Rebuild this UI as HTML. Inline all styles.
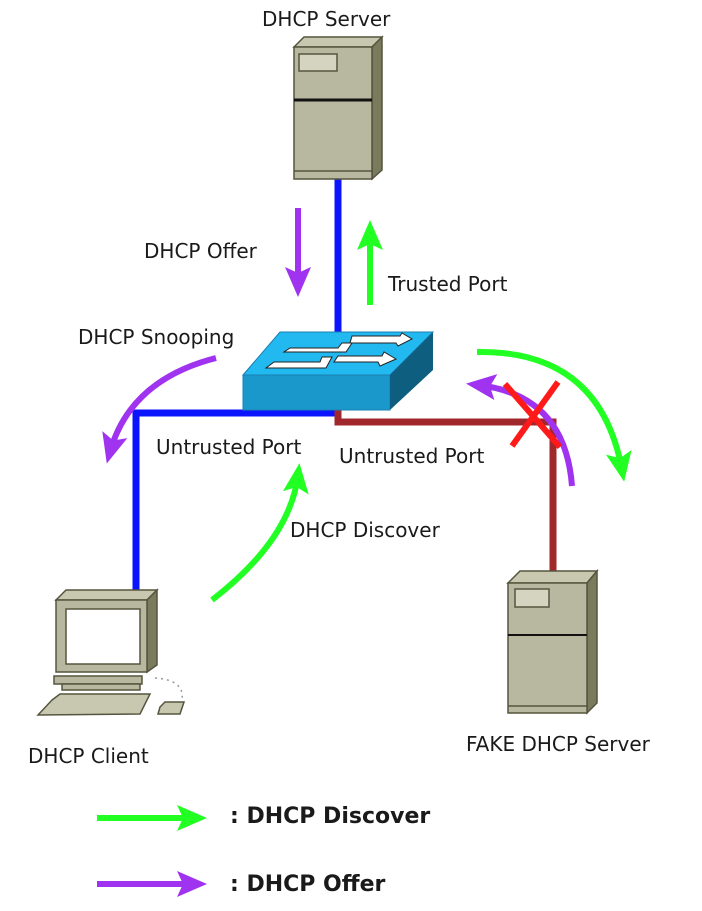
<!DOCTYPE html>
<html><head><style>
html,body{margin:0;padding:0;background:#fff;}
svg text{font-family:"DejaVu Sans","Liberation Sans",sans-serif;font-size:20px;fill:#1a1a1a;}
</style></head><body>
<svg width="702" height="906" viewBox="0 0 702 906" xmlns="http://www.w3.org/2000/svg">
<defs>
<marker id="pa" viewBox="0 0 30 30" refX="18" refY="15" markerWidth="30" markerHeight="30" markerUnits="userSpaceOnUse" orient="auto"><path d="M0,2 L30,15 L0,28 L6,15 Z" fill="#a033f0"/></marker>
<marker id="ga" viewBox="0 0 30 30" refX="18" refY="15" markerWidth="30" markerHeight="30" markerUnits="userSpaceOnUse" orient="auto"><path d="M0,2 L30,15 L0,28 L6,15 Z" fill="#22ff22"/></marker>
</defs>
<line x1="338" y1="178" x2="338" y2="335" stroke="#0a14ff" stroke-width="7"/>
<polyline points="338,413 136,413 136,592" fill="none" stroke="#0a14ff" stroke-width="7"/>
<polyline points="338,408 338,422 553,422 553,572" fill="none" stroke="#a0282c" stroke-width="7"/>
<g stroke="#55553f" stroke-width="1.5">
<polygon points="294,47 304,37 382,37 372,47" fill="#c8c8b0"/>
<polygon points="372,47 382,37 382,170 372,179" fill="#7a7a5c"/>
<rect x="294" y="47" width="78" height="132" fill="#b8b8a0"/>
<rect x="299" y="54" width="38" height="17" fill="#d4d4c0"/>
<line x1="294" y1="171" x2="372" y2="171"/>
</g>
<line x1="294" y1="100" x2="372" y2="100" stroke="#111" stroke-width="3"/>
<g stroke="#55553f" stroke-width="1.5">
<polygon points="508,583 520,571 597,571 587,583" fill="#c8c8b0"/>
<polygon points="587,583 597,571 597,703 587,713" fill="#7a7a5c"/>
<rect x="508" y="583" width="79" height="130" fill="#b8b8a0"/>
<rect x="515" y="589" width="34" height="18" fill="#d4d4c0"/>
<line x1="508" y1="706" x2="587" y2="706"/>
</g>
<line x1="508" y1="635" x2="587" y2="635" stroke="#111" stroke-width="2"/>
<polygon points="243,375 280,332 433,332 390,375" fill="#22b8f0" stroke="#1a7fb0"/>
<rect x="243" y="375" width="147" height="35" fill="#1a98cc" stroke="#1a7fb0"/>
<polygon points="390,375 433,332 433,370 390,410" fill="#0e5e80"/>
<g fill="#fff" stroke="#222" stroke-width="1">
<polygon points="352,336 400,336 402,333 412,339 398,346 396,343 350,343"/>
<polygon points="290,348 338,348 342,343 352,343 346,352 284,352"/>
<polygon points="338,356 382,356 384,352 396,359 380,366 378,362 334,362"/>
<polygon points="274,362 320,362 322,357 332,357 326,368 266,368"/>
</g>
<g stroke="#55553f" stroke-width="1.5">
<polygon points="56,600 66,590 157,590 147,600" fill="#c8c8b0"/>
<polygon points="147,600 157,590 157,665 147,672" fill="#7a7a5c"/>
<rect x="56" y="600" width="91" height="72" fill="#b8b8a0"/>
<rect x="66" y="609" width="74" height="55" fill="#fff"/>
<rect x="54" y="676" width="88" height="8" fill="#b8b8a0"/>
<rect x="62" y="684" width="78" height="6" fill="#b8b8a0"/>
<polygon points="52,700 60,694 150,694 140,714 38,715" fill="#c8c8b0"/>
<polygon points="160,707 165,702 184,702 180,714 158,714" fill="#c8c8b0"/>
</g>
<path d="M155,678 Q185,680 182,700" fill="none" stroke="#999" stroke-width="1.5" stroke-dasharray="2,4"/>
<line x1="298" y1="208" x2="298" y2="285" stroke="#a033f0" stroke-width="6" marker-end="url(#pa)"/>
<line x1="370" y1="305" x2="370" y2="232" stroke="#22ff22" stroke-width="6" marker-end="url(#ga)"/>
<path d="M216,358 Q130,380 110,452" fill="none" stroke="#a033f0" stroke-width="6" marker-end="url(#pa)"/>
<path d="M212,600 Q290,540 298,475" fill="none" stroke="#22ff22" stroke-width="6" marker-end="url(#ga)"/>
<path d="M477,352 Q600,350 622,470" fill="none" stroke="#22ff22" stroke-width="6" marker-end="url(#ga)"/>
<path d="M572,486 Q565,395 478,385" fill="none" stroke="#a033f0" stroke-width="6" marker-end="url(#pa)"/>
<line x1="505" y1="384" x2="560" y2="447" stroke="#ff1a1a" stroke-width="6"/>
<line x1="558" y1="382" x2="512" y2="446" stroke="#ff1a1a" stroke-width="6"/>
<line x1="97" y1="818" x2="195" y2="818" stroke="#22ff22" stroke-width="6" marker-end="url(#ga)"/>
<line x1="97" y1="884" x2="195" y2="884" stroke="#a033f0" stroke-width="6" marker-end="url(#pa)"/>
<text x="262" y="26">DHCP Server</text>
<text x="144" y="258">DHCP Offer</text>
<text x="388" y="291">Trusted Port</text>
<text x="78" y="344">DHCP Snooping</text>
<text x="156" y="454">Untrusted Port</text>
<text x="339" y="463">Untrusted Port</text>
<text x="290" y="537">DHCP Discover</text>
<text x="28" y="763">DHCP Client</text>
<text x="466" y="751">FAKE DHCP Server</text>
<text x="230" y="823" style="font-weight:bold;font-size:22px">: DHCP Discover</text>
<text x="230" y="891" style="font-weight:bold;font-size:22px">: DHCP Offer</text>
</svg>
</body></html>
